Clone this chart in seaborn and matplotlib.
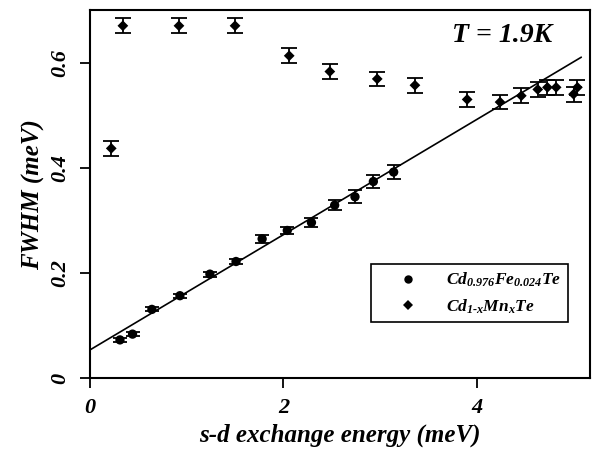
import numpy as np
import pandas as pd
import matplotlib
matplotlib.use("Agg")
import matplotlib.pyplot as plt
import seaborn as sns

# Cd0.976Fe0.024Te data (circles)
fe_x = [0.31, 0.44, 0.64, 0.93, 1.24, 1.51, 1.78, 2.04, 2.29, 2.53, 2.74, 2.93, 3.14]
fe_y = [0.073, 0.084, 0.131, 0.157, 0.198, 0.222, 0.265, 0.281, 0.296, 0.329, 0.345, 0.374, 0.392]
fe_err = [0.004, 0.004, 0.004, 0.004, 0.005, 0.005, 0.008, 0.007, 0.009, 0.010, 0.012, 0.013, 0.014]

# Cd1-xMnxTe data (diamonds)
mn_x = [0.22, 0.34, 0.92, 1.50, 2.06, 2.48, 2.97, 3.36, 3.90, 4.24, 4.46, 4.63, 4.73, 4.82, 5.00, 5.04]
mn_y = [0.437, 0.670, 0.670, 0.670, 0.613, 0.583, 0.569, 0.557, 0.530, 0.525, 0.537, 0.549, 0.553, 0.553, 0.540, 0.553]
mn_err = [0.014, 0.014, 0.014, 0.014, 0.014, 0.014, 0.014, 0.014, 0.014, 0.014, 0.014, 0.014, 0.014, 0.014, 0.014, 0.014]

# Linear fit to Fe data
fit_intercept = 0.054
fit_slope = 0.1095
fit_xrange = [0.0, 5.08]

labels = [r"$Cd_{0.976}Fe_{0.024}Te$", r"$Cd_{1\text{-}x}Mn_{x}Te$"]
xticks = [0, 2, 4]
yticks = [0, 0.2, 0.4, 0.6]
ytick_labels = ["0", "0.2", "0.4", "0.6"]

sns.set_theme(style="ticks")
plt.rcParams["font.family"] = ["Liberation Serif", "DejaVu Serif"]
plt.rcParams["mathtext.fontset"] = "custom"
plt.rcParams["mathtext.rm"] = "Liberation Serif:bold:italic"
plt.rcParams["mathtext.it"] = "Liberation Serif:bold:italic"
plt.rcParams["mathtext.bf"] = "Liberation Serif:bold:italic"
for k in ["text.color", "axes.labelcolor", "xtick.color", "ytick.color", "axes.edgecolor"]:
    plt.rcParams[k] = "black"

fig = plt.figure(figsize=(5.92, 4.5), dpi=100)
ax = fig.add_axes([0.152, 0.1593, 0.8446, 0.8185])

df_fe = pd.DataFrame({"x": fe_x, "y": fe_y, "series": labels[0]})
df_mn = pd.DataFrame({"x": mn_x, "y": mn_y, "series": labels[1]})

# fit line
fx = np.linspace(fit_xrange[0], fit_xrange[1], 50)
sns.lineplot(x=fx, y=fit_intercept + fit_slope * fx, ax=ax, color="black", lw=1.2, legend=False)

ax.errorbar(fe_x, fe_y, yerr=fe_err, fmt="none", ecolor="black", elinewidth=1.3, capsize=5, capthick=1.3)
ax.errorbar(mn_x, mn_y, yerr=mn_err, fmt="none", ecolor="black", elinewidth=1.3, capsize=5.5, capthick=1.3)

sns.scatterplot(data=df_fe, x="x", y="y", hue="series", palette={labels[0]: "black"},
                marker="o", s=45, edgecolor="black", linewidth=0, ax=ax)
sns.scatterplot(data=df_mn, x="x", y="y", hue="series", palette={labels[1]: "black"},
                marker="D", s=30, edgecolor="black", linewidth=0, ax=ax)

ax.set_xlim(0, 5.17)
ax.set_ylim(0, 0.70)
tick_font = dict(fontsize=16, fontweight="bold", fontstyle="italic", color="black")
ax.set_xticks(xticks)
ax.set_xticklabels([str(t) for t in xticks], **tick_font)
ax.set_yticks(yticks)
ax.set_yticklabels(ytick_labels, rotation=90, va="center", **tick_font)
ax.tick_params(axis="both", direction="out", length=7, width=1.3, color="black", pad=7)
for sp in ax.spines.values():
    sp.set_visible(True)
    sp.set_color("black")
    sp.set_linewidth(1.5)

ax.set_xlabel("s-d exchange energy (meV)", fontsize=18, fontweight="bold", fontstyle="italic",
              labelpad=4, color="black")
ax.set_ylabel("FWHM (meV)", fontsize=18, fontweight="bold", fontstyle="italic",
              labelpad=4, color="black")

ax.text(0.925, 0.93, "T = 1.9K", transform=ax.transAxes, ha="right", va="center",
        fontsize=20, fontweight="bold", fontstyle="italic", color="black")

handles, lbls = ax.get_legend_handles_labels()
leg = ax.legend(handles, lbls, loc="center", bbox_to_anchor=(0.563, 0.147, 0.392, 0.168),
                fontsize=12.5, frameon=True, fancybox=False, edgecolor="black", framealpha=1,
                handletextpad=0.46, handlelength=3.5, borderpad=0.4, labelspacing=0.45,
                markerscale=0.9)
leg.get_frame().set_linewidth(1.2)

fig.savefig("out.png", dpi=100)
